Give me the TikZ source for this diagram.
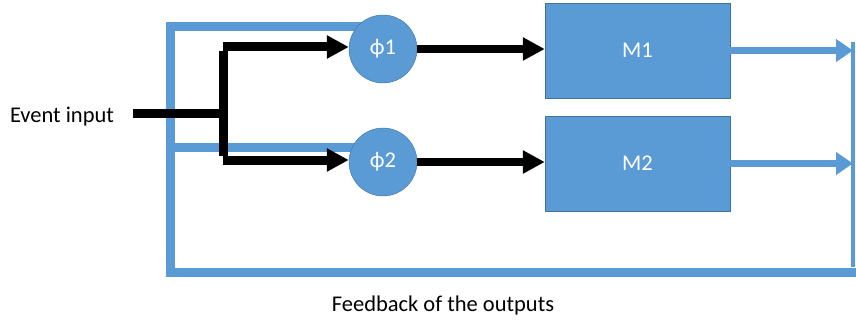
\documentclass[tikz,border=0pt]{standalone}
\usepackage{fontspec}
\setmainfont{Carlito}
\usetikzlibrary{arrows.meta,backgrounds}
\definecolor{fbblue}{HTML}{5B9BD5}
\definecolor{fbedge}{HTML}{41719C}

\begin{document}
\begin{tikzpicture}[x=1pt,y=-1pt]
    \tikzstyle{every node} = [font=\fontsize{22.5}{26}\selectfont]
    \tikzstyle{block} = [draw=fbedge, fill=fbblue, rectangle, minimum width=185pt, minimum height=95pt, text=white, inner sep=0pt]
    \tikzstyle{phase} = [draw=fbedge, fill=fbblue, circle, minimum size=68pt, text=white, inner sep=0pt]
    \tikzstyle{feed} = [draw=fbblue, line width=9pt]
    \tikzstyle{event} = [draw=black, line width=9pt]
    \useasboundingbox (0,0) rectangle (856,321);
    % place nodes
    \node(eventLabel) at (62,117){Event input};
    \node[phase](phiOne) at (383,49){ϕ1};
    \node[phase](phiTwo) at (383,162){ϕ2};
    \node[block](mOne) at (637.5,50.5){M1};
    \node[block](mTwo) at (637.5,163.5){M2};
    \node(feedLabel) at (443,305){Feedback of the outputs};

    \coordinate (eventStart) at (133,113);
    \coordinate (split) at (223,113);
    \coordinate (fbTop) at (170,27);
    \coordinate (fbMid) at (170,147);
    \coordinate (fbCorner) at (853,272);
    \coordinate (fbRightTop) at (853,42);

    % Feedback (behind the circles)
    \begin{scope}[on background layer]
    \draw[feed]
    ([xshift=3pt]fbCorner)-|(fbTop)--(fbTop-|phiOne.center);
    \draw[feed]
    (fbMid)--(fbMid-|phiTwo.center);
    \end{scope}
    \draw[fbblue,line width=3.5pt]
    ([yshift=5pt]fbCorner)--(fbRightTop);
    \draw[feed,line width=7pt,-{Triangle[length=17pt,width=22pt]}]
    (mOne.east)--(mOne.east-|fbCorner);
    \draw[feed,line width=7pt,-{Triangle[length=17pt,width=22pt]}]
    (mTwo.east)--(mTwo.east-|fbCorner);

    % Connections
    \draw[event]
    (eventStart)--(split);
    \draw[event,-{Triangle[length=22pt,width=22pt]}]
    ([yshift=2pt]split|-phiOne.west)--([yshift=2pt]phiOne.west);
    \draw[event,-{Triangle[length=22pt,width=22pt]}]
    ([yshift=2pt]split|-phiTwo.west)--([yshift=2pt]phiTwo.west);
    \draw[event]
    ([yshift=-2.5pt]split|-phiOne.west)--([yshift=6.5pt]split|-phiTwo.west);
    \draw[event,line width=8pt,-{Triangle[length=22pt,width=22pt]}]
    (phiOne.east)--(phiOne.east-|mOne.west);
    \draw[event,line width=8pt,-{Triangle[length=22pt,width=22pt]}]
    (phiTwo.east)--(phiTwo.east-|mTwo.west);

  \end{tikzpicture}
\end{document}
